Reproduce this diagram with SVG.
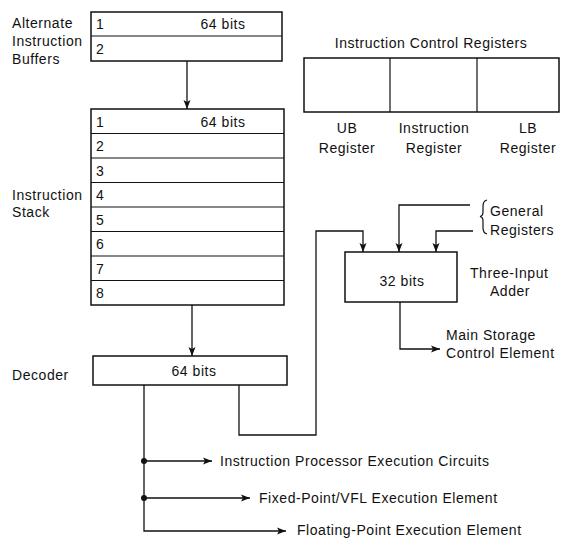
<svg xmlns="http://www.w3.org/2000/svg" width="561" height="540" viewBox="0 0 561 540">
<style>
text{font-family:"Liberation Sans",Arial,sans-serif;font-size:14px;letter-spacing:0.55px;fill:#111}
.c{text-anchor:middle}
.box{fill:#fff;stroke:#111;stroke-width:1.5}
.ln{fill:none;stroke:#111;stroke-width:1.3}
.w{fill:none;stroke:#111;stroke-width:1.2}
</style>
<defs>
<marker id="ah" markerWidth="10" markerHeight="8" refX="9" refY="4" orient="auto" markerUnits="userSpaceOnUse">
<path d="M0,0.5 L9,4 L0,7.5 L2,4 Z" fill="#111"/>
</marker>
</defs>
<rect width="561" height="540" fill="#fff"/>

<g id="alt-buffers">
<rect class="box" x="91" y="12" width="191" height="49"/>
<line class="w" x1="91" y1="36" x2="282" y2="36"/>
<text x="96" y="29">1</text>
<text class="c" x="223" y="29">64 bits</text>
<text x="96" y="54">2</text>
<text x="12" y="28">Alternate</text>
<text x="12" y="46">Instruction</text>
<text x="12" y="64">Buffers</text>
</g>

<g id="instruction-stack">
<rect class="box" x="91" y="109" width="193" height="196"/>
<line class="w" x1="91" y1="133.5" x2="284" y2="133.5"/>
<line class="w" x1="91" y1="158" x2="284" y2="158"/>
<line class="w" x1="91" y1="182.5" x2="284" y2="182.5"/>
<line class="w" x1="91" y1="207" x2="284" y2="207"/>
<line class="w" x1="91" y1="231.5" x2="284" y2="231.5"/>
<line class="w" x1="91" y1="256" x2="284" y2="256"/>
<line class="w" x1="91" y1="280.5" x2="284" y2="280.5"/>
<text x="96" y="127">1</text>
<text class="c" x="223" y="127">64 bits</text>
<text x="96" y="151">2</text>
<text x="96" y="176">3</text>
<text x="96" y="200">4</text>
<text x="96" y="225">5</text>
<text x="96" y="249">6</text>
<text x="96" y="274">7</text>
<text x="96" y="298">8</text>
<text x="12" y="200">Instruction</text>
<text x="12" y="217">Stack</text>
</g>

<g id="decoder">
<rect class="box" x="93" y="356" width="194" height="29"/>
<text class="c" x="194" y="376">64 bits</text>
<text x="12" y="380">Decoder</text>
</g>

<g id="icr">
<text class="c" x="431" y="48">Instruction Control Registers</text>
<rect class="box" x="304" y="58" width="255" height="54"/>
<line class="w" x1="390" y1="58" x2="390" y2="112"/>
<line class="w" x1="477" y1="58" x2="477" y2="112"/>
<text class="c" x="347" y="133">UB</text>
<text class="c" x="347" y="153">Register</text>
<text class="c" x="434" y="133">Instruction</text>
<text class="c" x="434" y="153">Register</text>
<text class="c" x="528" y="133">LB</text>
<text class="c" x="528" y="153">Register</text>
</g>

<g id="adder">
<rect class="box" x="345" y="252" width="112" height="50"/>
<text class="c" x="402" y="286">32 bits</text>
<text x="470" y="278">Three-Input</text>
<text class="c" x="510" y="296">Adder</text>
</g>

<g id="general-registers">
<path class="w" d="M487,200 Q483,201 483,206 L483,212 Q483,216 480,216.5 Q483,217 483,221 L483,228 Q483,233 487,234"/>
<text x="490" y="216">General</text>
<text x="490" y="235">Registers</text>
</g>

<g id="main-storage">
<text x="446" y="340">Main Storage</text>
<text x="446" y="358">Control Element</text>
</g>

<g id="exec-units">
<text x="220" y="466">Instruction Processor Execution Circuits</text>
<text x="259" y="503">Fixed-Point/VFL Execution Element</text>
<text x="297" y="535">Floating-Point Execution Element</text>
</g>

<g id="connectors">
<line class="ln" x1="187" y1="61" x2="187" y2="109" marker-end="url(#ah)"/>
<line class="ln" x1="192" y1="305" x2="192" y2="356" marker-end="url(#ah)"/>
<polyline class="ln" points="239,385 239,435 316,435 316,231 363,231 363,252" marker-end="url(#ah)"/>
<polyline class="ln" points="470,205 399,205 399,252" marker-end="url(#ah)"/>
<polyline class="ln" points="473,231 436,231 436,252" marker-end="url(#ah)"/>
<polyline class="ln" points="400,302 400,349 440,349" marker-end="url(#ah)"/>
<polyline class="ln" points="144,385 144,531 286,531" marker-end="url(#ah)"/>
<line class="ln" x1="144" y1="461" x2="212" y2="461" marker-end="url(#ah)"/>
<line class="ln" x1="144" y1="498" x2="250" y2="498" marker-end="url(#ah)"/>
<circle cx="144" cy="461" r="3" fill="#111"/>
<circle cx="144" cy="498" r="3" fill="#111"/>
</g>
</svg>
